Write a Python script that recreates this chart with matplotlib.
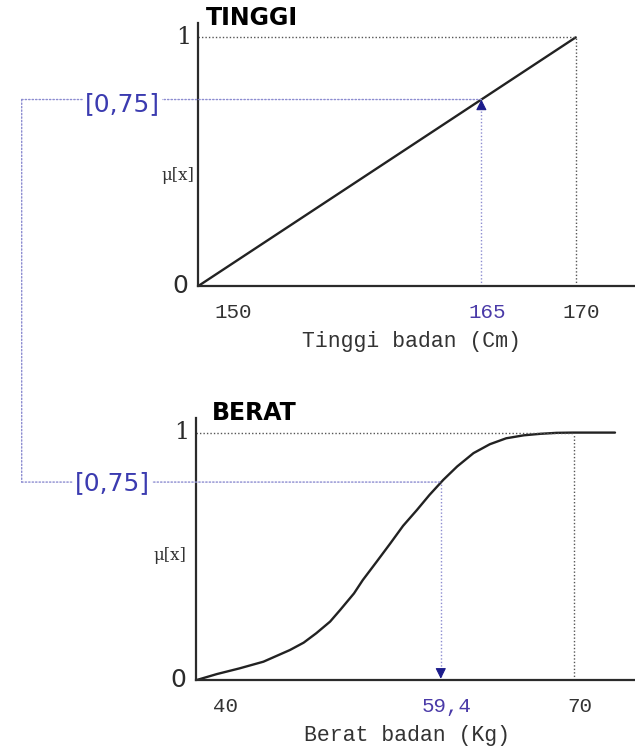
"""
Fungsi keanggotaan fuzzy: TINGGI dan BERAT
"""
import matplotlib
matplotlib.use('Agg')
import matplotlib.pyplot as plt
from matplotlib.patches import ConnectionPatch
from matplotlib.transforms import blended_transform_factory

# data panel TINGGI (linear naik)
tinggi_x = [150, 170]
tinggi_mu = [0, 1]
tinggi_cut = 165
tinggi_level = 0.75

# data panel BERAT (kurva S)
berat_x = [40.0, 41.6, 43.4, 45.3, 47.4, 48.5, 49.5, 50.6, 51.4, 52.5, 53.2, 54.3,
           55.4, 56.4, 57.5, 58.5, 59.6, 60.7, 62.0, 63.3, 64.6, 66.0, 67.3, 68.6,
           69.9, 73.25]
berat_mu = [0.0, 0.024, 0.047, 0.074, 0.121, 0.151, 0.189, 0.236, 0.283, 0.350, 0.404,
            0.478, 0.553, 0.623, 0.687, 0.748, 0.809, 0.863, 0.917, 0.953, 0.977,
            0.989, 0.995, 0.999, 1.0, 1.0]
berat_cut = 59.4
berat_level = 0.80

tinggi_ticks = [150, 165, 170]
tinggi_ticklabels = ['150', '165', '170']
berat_ticks = [40, 59.4, 70]
berat_ticklabels = ['40', '59,4', '70']
level_label = '[0,75]'

W, H = 635, 746
DARK = '#2b2b2b'
BLUE_TXT = '#3b3bb0'
BLUE_LINE = '#8c8cd0'
NAVY = '#1c1c8c'
DOT = (0, (1, 1.5))

fig = plt.figure(figsize=(W / 100, H / 100), dpi=100)


def make_axes(left, top, bottom, xlim, ylim):
    ax = fig.add_axes([left / W, 1 - bottom / H, (W - left) / W, (bottom - top) / H])
    ax.set_xlim(*xlim)
    ax.set_ylim(*ylim)
    for s in ['top', 'right']:
        ax.spines[s].set_visible(False)
    for s in ['left', 'bottom']:
        ax.spines[s].set_color(DARK)
        ax.spines[s].set_linewidth(1.6)
    ax.set_xticks([])
    ax.set_yticks([])
    ax.patch.set_alpha(0)
    return ax


ax1 = make_axes(198.3, 22.7, 286, (150, 173.14), (0, 1.059))
ax2 = make_axes(196.0, 418, 680, (39.94, 74.84), (0, 1.059))

# kurva
ax1.plot(tinggi_x, tinggi_mu, color='#222222', lw=1.7, solid_capstyle='round')
ax2.plot(berat_x, berat_mu, color='#222222', lw=1.7, solid_capstyle='round',
         solid_joinstyle='round')


def decorate(ax, x_max, cut, level, ticks, ticklabels, xlabel, xlabel_pos,
             arrow_up, title, title_xy, label_xy, mu_xy):
    # garis putus-putus pada mu = 1
    ax.plot([ax.get_xlim()[0], x_max], [1, 1], color='#555555', lw=1, ls=DOT)
    ax.plot([x_max, x_max], [0, 1], color='#555555', lw=1, ls=DOT)

    # garis vertikal potong + panah
    ax.plot([cut, cut], [0, level], color=BLUE_LINE, lw=1, ls=DOT)
    if arrow_up:
        ax.annotate('', xy=(cut, level), xytext=(0, -6.4), textcoords='offset points',
                    arrowprops=dict(arrowstyle='-|>', color=NAVY, lw=0.8,
                                    mutation_scale=16, shrinkA=0, shrinkB=0))
    else:
        ax.annotate('', xy=(cut, 0.005), xytext=(0, 6.4), textcoords='offset points',
                    arrowprops=dict(arrowstyle='-|>', color=NAVY, lw=0.8,
                                    mutation_scale=16, shrinkA=0, shrinkB=0))

    # garis horizontal level ke kiri
    con = ConnectionPatch(xyA=(21.7 / W, level),
                          coordsA=blended_transform_factory(fig.transFigure, ax.transData),
                          xyB=(cut, level), coordsB=ax.transData,
                          color=BLUE_LINE, lw=1, ls=DOT)
    fig.add_artist(con)

    # label tick
    for i, (t, lab) in enumerate(zip(ticks, ticklabels)):
        ha = 'left' if i == 0 else 'center'
        dx = 12 if i == 0 else 4
        ax.annotate(lab, xy=(t, 0), xytext=(dx, -19), textcoords='offset points',
                    ha=ha, va='center', family='Liberation Mono', fontsize=15,
                    color='#4a3aa8' if t == cut else '#333333')

    ax.annotate(xlabel, xy=(xlabel_pos, 0), xycoords='axes fraction',
                xytext=(0, -40), textcoords='offset points', ha='center', va='center',
                family='Liberation Mono', fontsize=15.5, color='#333333')

    # 0 dan 1 di sumbu y
    yt = blended_transform_factory(ax.transAxes, ax.transData)
    ax.annotate('1', xy=(0, 1), xycoords=yt, xytext=(-5, 0), textcoords='offset points',
                ha='right', va='center', family='DejaVu Serif', fontsize=17, color=DARK)
    ax.annotate('0', xy=(0, 0), xycoords=yt, xytext=(-7, 0), textcoords='offset points',
                ha='right', va='center', family='DejaVu Sans', fontsize=18, color=DARK)

    fig.text(title_xy[0] / W, 1 - title_xy[1] / H, title, ha='left', va='center',
             fontsize=17, fontweight='bold', family='DejaVu Sans', color='black')
    fig.text(label_xy[0] / W, 1 - label_xy[1] / H, level_label, ha='center', va='center',
             fontsize=18, family='DejaVu Sans', color=BLUE_TXT,
             bbox=dict(facecolor='white', edgecolor='none', pad=1.5))
    fig.text(mu_xy[0] / W, 1 - mu_xy[1] / H, 'μ[x]', ha='right', va='center',
             fontsize=12, family='DejaVu Serif', color='#333333')


decorate(ax1, 170, tinggi_cut, tinggi_level, tinggi_ticks, tinggi_ticklabels,
         'Tinggi badan (Cm)', 0.487, True, 'TINGGI', (206, 18), (122, 104), (194, 175))
decorate(ax2, 70, berat_cut, berat_level, berat_ticks, berat_ticklabels,
         'Berat badan (Kg)', 0.48, False, 'BERAT', (212, 413), (112, 483), (186, 556))

# garis penghubung vertikal di kiri
con = ConnectionPatch(xyA=(21.7 / W, tinggi_level),
                      coordsA=blended_transform_factory(fig.transFigure, ax1.transData),
                      xyB=(21.7 / W, berat_level),
                      coordsB=blended_transform_factory(fig.transFigure, ax2.transData),
                      color=BLUE_LINE, lw=1, ls=DOT)
fig.add_artist(con)

fig.savefig('out.png', dpi=100)
